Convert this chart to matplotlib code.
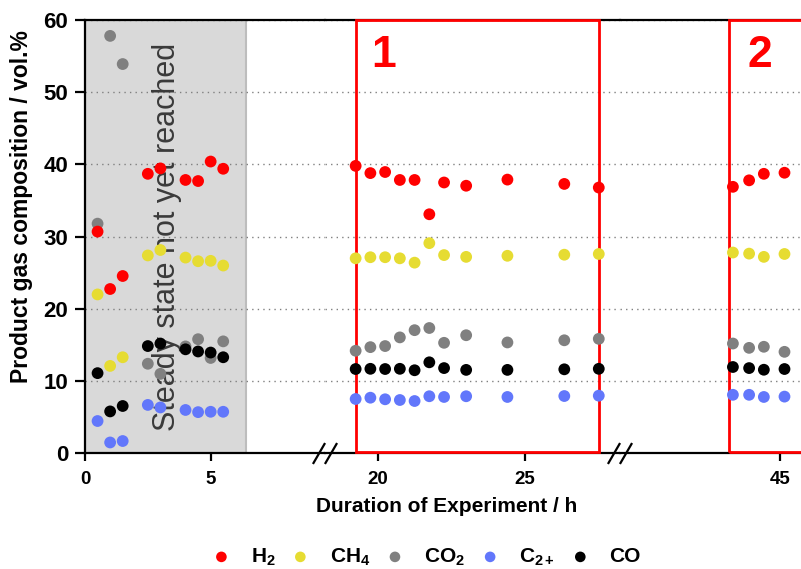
import matplotlib
matplotlib.use('Agg')
import matplotlib.pyplot as plt
from matplotlib.patches import Rectangle
from matplotlib.lines import Line2D

# --- data ---
time_h = [0.5, 1.0, 1.5, 2.5, 3.0, 4.0, 4.5, 5.0, 5.5,
          19.25, 19.75, 20.25, 20.75, 21.25, 21.75, 22.25, 23.0, 24.4, 26.33, 27.5,
          43.4, 43.95, 44.45, 45.15]
h2 = [30.7, 22.75, 24.55, 38.7, 39.45, 37.85, 37.7, 40.4, 39.4,
      39.8, 38.8, 38.95, 37.85, 37.85, 33.1, 37.5, 37.05, 37.9, 37.3, 36.8,
      36.9, 37.8, 38.7, 38.85]
ch4 = [22.0, 12.1, 13.3, 27.4, 28.15, 27.1, 26.6, 26.65, 26.0,
       27.0, 27.15, 27.15, 27.0, 26.4, 29.1, 27.45, 27.2, 27.35, 27.5, 27.6,
       27.8, 27.65, 27.2, 27.6]
co2 = [31.8, 57.8, 53.9, 12.4, 11.0, 14.8, 15.8, 13.2, 15.5,
       14.2, 14.7, 14.85, 16.05, 17.05, 17.35, 15.3, 16.35, 15.35, 15.65, 15.85,
       15.2, 14.6, 14.75, 14.05]
c2plus = [4.47, 1.5, 1.7, 6.7, 6.35, 6.0, 5.7, 5.75, 5.75,
          7.52, 7.7, 7.48, 7.38, 7.24, 7.9, 7.8, 7.9, 7.8, 7.93, 7.98,
          8.1, 8.1, 7.8, 7.85]
co = [11.1, 5.8, 6.55, 14.85, 15.2, 14.4, 14.1, 13.95, 13.3,
      11.67, 11.7, 11.67, 11.7, 11.5, 12.6, 11.8, 11.55, 11.55, 11.63, 11.7,
      11.95, 11.8, 11.57, 11.67]

seg_limits = [(0, 9.55), (18.21, 28.22), (39.57, 45.71)]
seg_ticks = [[0, 5], [20, 25], [45]]
steady_end = 6.4
boxes = [(19.26, 27.52, '1', 20.2), (43.27, 47.5, '2', 44.32)]

series = [  # label, values, colour, zorder
    ('H$_2$', h2, '#ff0000', 7),
    ('CH$_4$', ch4, '#e6dc32', 6),
    ('CO$_2$', co2, '#808080', 4),
    ('C$_{2+}$', c2plus, '#6277fb', 5),
    ('CO', co, '#000000', 5),
]

plt.rcParams['font.family'] = ['Liberation Sans', 'DejaVu Sans']
plt.rcParams['font.weight'] = 'bold'
plt.rcParams['mathtext.fontset'] = 'custom'
plt.rcParams['mathtext.rm'] = 'Liberation Sans:bold'
plt.rcParams['mathtext.it'] = 'Liberation Sans:bold'
plt.rcParams['mathtext.bf'] = 'Liberation Sans:bold'

fig = plt.figure(figsize=(8.01, 5.69), dpi=100)
W, H = 801.0, 569.0
y_top, y_bot = 20, 453.3
seg_px = [(85, 325), (325, 620), (620, 801)]

axes = []
for i, (px0, px1) in enumerate(seg_px):
    ax = fig.add_axes([px0 / W, 1 - y_bot / H, (px1 - px0) / W, (y_bot - y_top) / H])
    ax.set_xlim(*seg_limits[i])
    ax.set_ylim(0, 60)
    ax.set_xticks(seg_ticks[i])
    ax.set_yticks(range(0, 61, 10))
    for s in ['top', 'bottom', 'left', 'right']:
        ax.spines[s].set_linewidth(1.6)
        ax.spines[s].set_capstyle('projecting')
    ax.spines['right'].set_visible(False)
    if i > 0:
        ax.spines['left'].set_visible(False)
        ax.tick_params(axis='y', left=False, labelleft=False)
    ax.tick_params(axis='y', direction='out', length=7, width=1.6, labelsize=16, pad=5)
    ax.tick_params(axis='x', direction='out', length=6, width=1.6, labelsize=13.5, pad=7)
    ax.grid(axis='y', linestyle=(0, (1, 3)), color='#808080', linewidth=1.0)
    ax.set_axisbelow(True)
    for label, vals, color, z in series:
        ax.scatter(time_h, vals, s=72, color=color, edgecolors='none', zorder=z, label=label)
    axes.append(ax)

# steady state region
ax = axes[0]
ax.axvspan(0, steady_end, facecolor='#d9d9d9', edgecolor='#bdbdbd', linewidth=1.5, zorder=0)
ax.text(3.25, 30, 'Steady state not yet reached', rotation=90, ha='center', va='center',
        fontsize=22, fontweight='normal', color='#3a3a3a', zorder=3)

# red boxes
for ax, (bx0, bx1, lab, tx) in zip(axes[1:], boxes):
    ax.add_patch(Rectangle((bx0, 0.2), bx1 - bx0, 59.8, fill=False, edgecolor='#ff0000',
                           linewidth=2.0, zorder=3, clip_on=False))
    ax.text(tx, 55.1, lab, ha='center', va='center', fontsize=32, fontweight='bold',
            color='#ff0000', zorder=8)

# axis break marks
for cx in [325, 620]:
    for off in [-6, 6]:
        xs = [(cx + off - 5.5) / W, (cx + off + 5.5) / W]
        ys = [1 - 463 / H, 1 - 444 / H]
        fig.add_artist(Line2D(xs, ys, color='black', linewidth=1.6))

fig.text(22 / W, 1 - 207 / H, 'Product gas composition / vol.%', rotation=90,
         ha='center', va='center', fontsize=16.5, fontweight='bold')
fig.text(447 / W, 1 - 507 / H, 'Duration of Experiment / h', ha='center', va='center',
         fontsize=15, fontweight='bold')

handles, labels = axes[0].get_legend_handles_labels()
fig.legend(handles, labels, loc='center', bbox_to_anchor=(428 / W, 1 - 557 / H),
           ncol=5, frameon=False, fontsize=15, handlelength=0.6, handletextpad=1.1,
           columnspacing=0.9, markerscale=0.9)

fig.savefig('out.png', dpi=100)
